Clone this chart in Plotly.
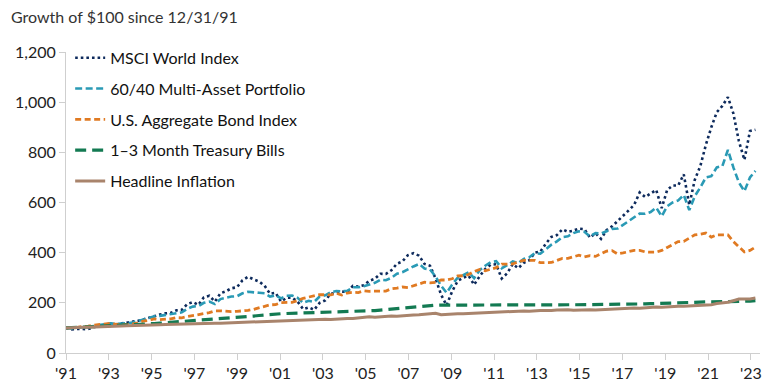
import pandas as pd
import plotly.graph_objects as go

# Quarter-end dates from 12/31/91 to 3/31/23
dates = [pd.Timestamp(1991, 12, 31)] + [
    pd.Timestamp(y, m, d)
    for y in range(1992, 2024)
    for (m, d) in ((3, 31), (6, 30), (9, 30), (12, 31))
    if pd.Timestamp(y, m, d) <= pd.Timestamp(2023, 3, 31)
]

msci_world = [
    100,
    94, 96, 95, 95,
    103, 108, 114, 117,
    114, 117, 120, 123,
    128, 134, 141, 149,
    153, 158, 160, 170,
    172, 195, 203, 192,
    222, 228, 205, 238,
    246, 258, 262, 290,
    304, 294, 285, 268,
    236, 240, 205, 220,
    220, 205, 175, 182,
    172, 200, 210, 236,
    242, 245, 243, 268,
    265, 270, 288, 296,
    316, 315, 330, 356,
    365, 390, 398, 388,
    355, 348, 297, 232,
    190, 245, 287, 300,
    308, 272, 306, 335,
    352, 354, 297, 318,
    355, 338, 360, 370,
    400, 404, 436, 463,
    470, 493, 483, 488,
    496, 494, 460, 478,
    455, 490, 505, 525,
    548, 568, 590, 640,
    622, 635, 650, 578,
    650, 668, 668, 712,
    590, 690, 745, 830,
    900, 960, 985, 1020,
    955, 845, 770, 885,
    890,
]

multi_asset_6040 = [
    100,
    98, 101, 102, 104,
    108, 112, 116, 118,
    116, 117, 119, 121,
    127, 134, 139, 146,
    148, 151, 154, 160,
    162, 176, 185, 187,
    200, 205, 195, 215,
    220, 225, 226, 238,
    244, 241, 240, 238,
    225, 230, 218, 228,
    229, 220, 200, 208,
    204, 225, 230, 242,
    247, 246, 248, 262,
    262, 266, 274, 280,
    292, 290, 300, 316,
    322, 335, 345, 355,
    337, 333, 305, 268,
    240, 272, 300, 310,
    322, 298, 330, 348,
    362, 366, 338, 350,
    365, 358, 375, 382,
    398, 396, 415, 432,
    445, 462, 465, 478,
    485, 483, 465, 478,
    476, 485, 495, 496,
    510, 525, 540, 556,
    555, 562, 580, 545,
    585, 600, 608, 630,
    570, 625, 660, 700,
    705, 740, 745, 810,
    740, 680, 645, 700,
    726,
]

us_agg_bond = [
    100,
    100, 102, 106, 107,
    111, 114, 117, 118,
    115, 113, 114, 115,
    120, 127, 130, 136,
    133, 134, 136, 141,
    140, 145, 150, 155,
    157, 161, 168, 168,
    166, 165, 166, 167,
    170, 174, 179, 186,
    192, 193, 201, 202,
    202, 209, 218, 223,
    227, 233, 232, 232,
    238, 231, 239, 242,
    241, 248, 246, 248,
    247, 247, 256, 259,
    263, 261, 268, 277,
    282, 280, 282, 291,
    291, 296, 307, 308,
    313, 325, 333, 328,
    333, 340, 354, 354,
    355, 364, 369, 369,
    369, 360, 362, 361,
    369, 377, 377, 383,
    390, 383, 388, 385,
    397, 406, 408, 395,
    399, 405, 409, 409,
    403, 402, 402, 409,
    421, 434, 444, 445,
    458, 471, 474, 478,
    462, 471, 471, 471,
    444, 423, 403, 409,
    422,
]

tbills_1_3m = [
    100,
    101.0, 102.0, 103.0, 103.5,
    104.0, 105.0, 106.0, 106.6,
    107.5, 108.5, 110.0, 111.2,
    112.8, 114.5, 116.0, 117.5,
    119.0, 120.5, 122.0, 123.6,
    125.2, 126.8, 128.5, 130.2,
    131.8, 133.4, 135.0, 136.6,
    138.1, 139.7, 141.4, 143.2,
    145.2, 147.3, 149.5, 151.8,
    153.8, 155.5, 156.7, 157.5,
    158.1, 158.8, 159.5, 160.2,
    160.7, 161.2, 161.6, 162.0,
    162.4, 162.8, 163.3, 164.1,
    165.0, 166.3, 167.7, 169.2,
    171.0, 173.0, 175.1, 177.3,
    179.6, 182.0, 184.5, 186.8,
    188.4, 189.6, 190.4, 190.8,
    191.0, 191.1, 191.2, 191.3,
    191.4, 191.5, 191.5, 191.6,
    191.7, 191.7, 191.8, 191.8,
    191.9, 191.9, 192.0, 192.0,
    192.1, 192.1, 192.2, 192.2,
    192.2, 192.3, 192.3, 192.3,
    192.4, 192.4, 192.4, 192.5,
    192.7, 192.8, 193.0, 193.2,
    193.5, 193.9, 194.4, 194.9,
    195.7, 196.5, 197.5, 198.5,
    199.6, 200.7, 201.8, 202.8,
    203.5, 203.5, 203.6, 203.6,
    203.6, 203.6, 203.7, 203.7,
    203.7, 204.0, 205.0, 206.6,
    208.7,
]

headline_inflation = [
    100,
    101.7, 102.2, 102.8, 102.9,
    104.1, 104.7, 105.2, 105.7,
    106.7, 107.3, 108.3, 108.6,
    109.8, 110.6, 111.1, 111.3,
    112.9, 113.6, 114.4, 115.0,
    116.0, 116.2, 116.9, 117.0,
    117.6, 118.2, 118.6, 118.9,
    119.7, 120.5, 121.8, 122.0,
    124.1, 125.0, 126.0, 126.2,
    127.8, 129.1, 129.3, 128.1,
    129.7, 130.5, 131.3, 131.2,
    133.6, 133.2, 134.3, 133.6,
    135.9, 137.6, 137.7, 138.0,
    140.2, 141.0, 144.5, 142.7,
    144.9, 147.1, 147.1, 146.3,
    148.9, 151.1, 151.2, 152.3,
    154.8, 158.7, 158.7, 152.4,
    154.2, 156.4, 156.6, 156.6,
    157.8, 158.1, 158.4, 159.0,
    162.1, 163.7, 164.5, 163.7,
    166.4, 166.4, 167.8, 166.5,
    168.8, 169.3, 169.8, 169.0,
    171.4, 172.8, 172.6, 170.3,
    171.2, 173.0, 172.5, 171.5,
    172.7, 174.8, 175.1, 175.1,
    176.8, 177.6, 179.0, 178.8,
    181.0, 182.7, 183.0, 182.2,
    184.3, 185.7, 186.2, 186.3,
    187.2, 186.9, 188.8, 188.9,
    192.1, 197.0, 198.9, 202.2,
    208.5, 214.9, 215.2, 215.2,
    218.9,
]

series_names = [
    "MSCI World Index",
    "60/40 Multi-Asset Portfolio",
    "U.S. Aggregate Bond Index",
    "1–3 Month Treasury Bills",
    "Headline Inflation",
]

tick_labels = ["'91", "'93", "'95", "'97", "'99", "'01", "'03", "'05", "'07",
               "'09", "'11", "'13", "'15", "'17", "'19", "'21", "'23"]
y_ticks = [0, 200, 400, 600, 800, 1000, 1200]

# axis geometry: label '91 sits at the 12/31/91 start, '23 at early 2023
start = pd.Timestamp(1991, 12, 31)
end_tick = pd.Timestamp(2023, 1, 15)
step = (end_tick - start) / (len(tick_labels) - 1)
tick_vals = [start + i * step for i in range(len(tick_labels))]

styles = [
    dict(color="#0d2a5c", width=2.6, dash="2.6px,3px"),
    dict(color="#2a9ab5", width=2.6, dash="7px,3.5px"),
    dict(color="#e07a22", width=2.8, dash="6px,3.5px"),
    dict(color="#137a52", width=3.2, dash="11px,6px"),
    dict(color="#a9846c", width=3.0, dash="solid"),
]
data = [msci_world, multi_asset_6040, us_agg_bond, tbills_1_3m, headline_inflation]

fig = go.Figure()
for name, vals, st in zip(series_names, data, styles):
    fig.add_trace(go.Scatter(
        x=dates, y=vals, mode="lines", name=name, legendgroup=name,
        line=dict(color=st["color"], width=st["width"], dash=st["dash"]),
        hovertemplate="%{x|%b %Y}: %{y:,.0f}<extra>" + name + "</extra>",
    ))

font_family = "Lato, 'Open Sans', sans-serif"
fig.update_layout(
    width=770, height=391,
    margin=dict(l=66, r=10, t=52, b=38, autoexpand=False),
    paper_bgcolor="white", plot_bgcolor="white",
    font=dict(family=font_family, size=16, color="#222222"),
    showlegend=True,
    legend=dict(
        x=0.006, y=1.037, xanchor="left", yanchor="top",
        bgcolor="rgba(0,0,0,0)", font=dict(size=16, color="#111111"),
        tracegroupgap=7, itemwidth=30,
    ),
    annotations=[dict(
        text="Growth of $100 since 12/31/91", xref="paper", yref="paper",
        x=-0.082, y=1.118, xanchor="left", yanchor="middle", showarrow=False,
        font=dict(family=font_family, size=16, color="#333333"),
    )],
)
fig.update_xaxes(
    type="date",
    range=[start, pd.Timestamp(2023, 6, 15)],
    tickvals=tick_vals, ticktext=tick_labels,
    showline=True, linecolor="#cfcfcf", linewidth=1,
    ticks="outside", ticklen=6, tickcolor="#cfcfcf",
    showgrid=False, zeroline=False, automargin=False,
    tickfont=dict(size=16, color="#222222"),
)
fig.update_yaxes(
    range=[0, 1200], tickvals=y_ticks, tickformat=",",
    showline=True, linecolor="#cfcfcf", linewidth=1,
    ticks="outside", ticklen=6, tickcolor="#cfcfcf",
    showgrid=False, zeroline=False, automargin=False,
    tickfont=dict(size=16, color="#222222"),
)

fig.write_html(
    "out.html",
    config={"displayModeBar": False},
    post_script="document.body.style.margin='0';document.body.style.overflow='hidden';",
)
